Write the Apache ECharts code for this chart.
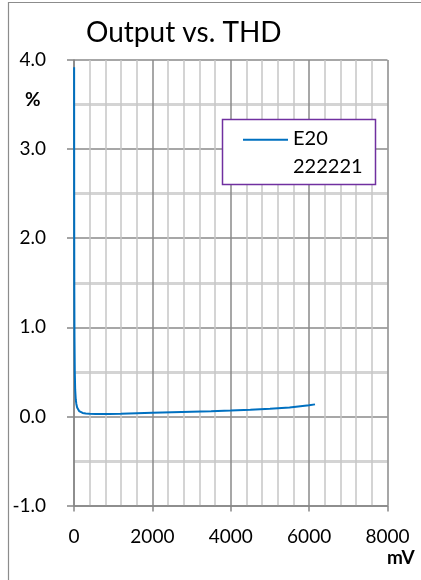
<!DOCTYPE html>
<html>
<head>
<meta charset="utf-8">
<script src="https://cdn.jsdelivr.net/npm/echarts@6/dist/echarts.min.js"></script>
<style>
html,body{margin:0;padding:0;background:#fff;}
#chart{width:421px;height:580px;}
</style>
</head>
<body>
<div id="chart"></div>
<script>
// ---- data ----
const chartTitle = 'Output vs. THD';
const seriesName = 'E20\n222221';
const xAxisName = 'mV';
const yAxisName = '%';
const outputMv = [3, 5, 8, 12, 20, 30, 45, 60, 80, 100, 130, 170, 220, 300, 400, 550, 700, 900, 1200, 1600, 2000, 2500, 3000, 3500, 4000, 4500, 5000, 5500, 6000, 6150];
const thdPct   = [3.92, 2.3, 1.4, 0.9, 0.5, 0.3, 0.19, 0.14, 0.1, 0.08, 0.06, 0.047, 0.039, 0.033, 0.03, 0.027, 0.026, 0.027, 0.03, 0.035, 0.04, 0.046, 0.052, 0.058, 0.066, 0.075, 0.086, 0.1, 0.124, 0.135];
const xTicks = { min: 0, max: 8000, step: 2000 };
const yTicks = { min: -1, max: 4, step: 1 };

const pts = outputMv.map((x, i) => [x, thdPct[i]]);
const FONT = 'Lato, "Open Sans", sans-serif';

const chart = echarts.init(document.getElementById('chart'));
chart.setOption({
  backgroundColor: '#fff',
  animation: false,
  title: {
    text: chartTitle,
    left: 86, top: 18.5, padding: 0,
    textStyle: { fontFamily: FONT, fontSize: 28, fontWeight: 'normal', color: '#000' }
  },
  grid: { left: 74, right: 33.5, top: 60, bottom: 74.5, outerBoundsMode: 'none', containLabel: false },
  xAxis: {
    type: 'value', min: xTicks.min, max: xTicks.max, interval: xTicks.step,
    axisLine: { show: true, onZero: false, lineStyle: { color: '#868686', width: 1.5 } },
    axisTick: { show: true, inside: false, length: 6, lineStyle: { color: '#868686', width: 1.5 } },
    axisLabel: { fontFamily: FONT, fontSize: 19, color: '#000', margin: 22, formatter: v => String(v) },
    splitLine: { show: true, lineStyle: { color: '#8a8a8a', width: 1.5 } },
    minorTick: { show: false, splitNumber: 5 },
    minorSplitLine: { show: true, lineStyle: { color: '#c6c6c6', width: 1.5 } }
  },
  yAxis: {
    type: 'value', min: yTicks.min, max: yTicks.max, interval: yTicks.step,
    axisLine: { show: true, onZero: false, lineStyle: { color: '#868686', width: 1.5 } },
    axisTick: { show: true, inside: false, length: 7, lineStyle: { color: '#868686', width: 1.5 } },
    axisLabel: { fontFamily: FONT, fontSize: 19, color: '#000', margin: 28, formatter: v => v.toFixed(1) },
    splitLine: { show: true, lineStyle: { color: '#8a8a8a', width: 1.5 } },
    minorTick: { show: false, splitNumber: 2 },
    minorSplitLine: { show: true, lineStyle: { color: '#d4d4d4', width: 3 } }
  },
  legend: {
    left: 243, top: 124.7,
    padding: 0,
    itemWidth: 45, itemHeight: 28,
    textStyle: { fontFamily: FONT, fontSize: 20, color: '#000', lineHeight: 28 },
    data: [{ name: seriesName, icon: 'path://M0,0 L45,0 L45,2 L0,2 Z M0,27.99 L0.01,27.99 L0.01,28 L0,28 Z' }]
  },
  graphic: [
    { type: 'rect', z: 3, shape: { x: 222.5, y: 119.5, width: 153, height: 65 },
      style: { fill: '#fff', stroke: '#7030A0', lineWidth: 1.5 } },
    { type: 'rect', z: 10, silent: true, shape: { x: 8.5, y: 2.5, width: 700, height: 900 },
      style: { fill: 'none', stroke: '#8c8c8c', lineWidth: 1.2 } },
    { type: 'text', z: 10, left: 25, top: 90.5,
      style: { text: yAxisName, fontFamily: FONT, fontSize: 19, fontWeight: 'bold', fill: '#000' } },
    { type: 'text', z: 10, left: 387, top: 548.5,
      style: { text: xAxisName, fontFamily: FONT, fontSize: 19, fontWeight: 'bold', fill: '#000' } }
  ],
  series: [{
    name: seriesName,
    type: 'line',
    data: pts,
    showSymbol: false,
    smooth: false,
    lineStyle: { color: '#0070C0', width: 2 },
    itemStyle: { color: '#0070C0' }
  }]
});
</script>
</body>
</html>
